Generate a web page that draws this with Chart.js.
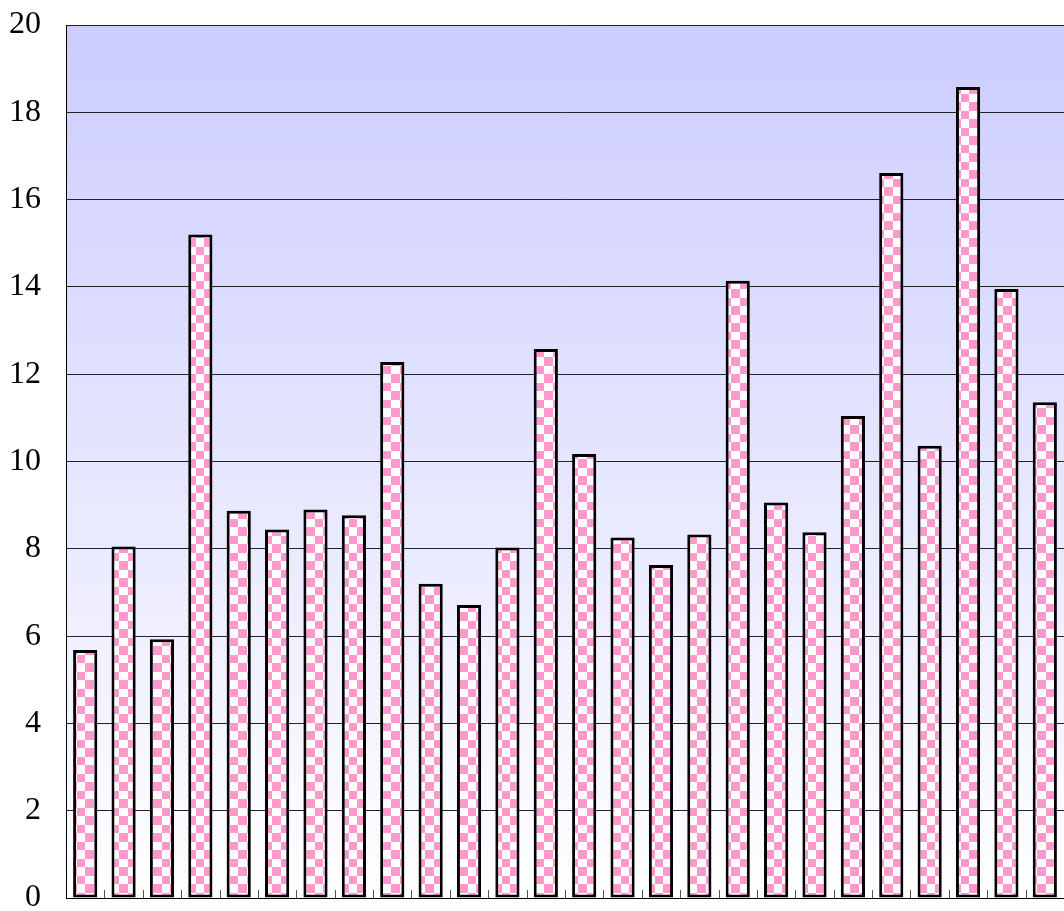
<!DOCTYPE html>
<html>
<head>
<meta charset="utf-8">
<script src="https://cdn.jsdelivr.net/npm/chart.js@4/dist/chart.umd.min.js"></script>
<style>
  html, body { margin: 0; padding: 0; background: #ffffff; }
  #wrap { width: 1064px; height: 911px; }
</style>
</head>
<body>
<div id="wrap"><canvas id="barChart"></canvas></div>
<script>
// valores
const categories = ['1', '2', '3', '4', '5', '6', '7', '8', '9', '10', '11', '12', '13',
  '14', '15', '16', '17', '18', '19', '20', '21', '22', '23', '24', '25', '26'];
const values = [5.68, 8.05, 5.93, 15.2, 8.87, 8.44, 8.9, 8.77, 12.28, 7.2, 6.71, 8.03, 12.58,
  10.17, 8.26, 7.63, 8.33, 14.14, 9.06, 8.38, 11.04, 16.61, 10.36, 18.58, 13.95, 11.36];
const yTicks = [0, 2, 4, 6, 8, 10, 12, 14, 16, 18, 20];

// padrão xadrez rosa/branco
function makeChecker() {
  const c = document.createElement('canvas');
  c.width = 17;
  c.height = 17;
  const g = c.getContext('2d');
  g.fillStyle = '#ffffff';
  g.fillRect(0, 0, 17, 17);
  g.fillStyle = '#ff99cc';
  g.fillRect(0, 0, 9, 9);
  g.fillRect(9, 9, 8, 8);
  const ctx = document.createElement('canvas').getContext('2d');
  return ctx.createPattern(c, 'repeat');
}

// fundo em degradê na área do gráfico
const plotBackground = {
  id: 'plotBackground',
  beforeDraw(chart) {
    const { ctx, chartArea: a } = chart;
    const grad = ctx.createLinearGradient(0, a.top, 0, a.bottom);
    grad.addColorStop(0, '#ccccff');
    grad.addColorStop(1, '#ffffff');
    ctx.save();
    ctx.fillStyle = grad;
    ctx.fillRect(a.left, a.top, a.right - a.left, a.bottom - a.top);
    ctx.restore();
  }
};

// marcas do eixo x voltadas para dentro
const innerTicks = {
  id: 'innerTicks',
  afterDatasetsDraw(chart) {
    const { ctx, chartArea: a } = chart;
    const x = chart.scales.x;
    ctx.save();
    ctx.strokeStyle = '#555555';
    ctx.lineWidth = 1;
    ctx.beginPath();
    for (let i = 1; i < categories.length; i++) {
      const px = Math.round((x.getPixelForValue(i - 1) + x.getPixelForValue(i)) / 2) + 0.5;
      ctx.moveTo(px, a.bottom);
      ctx.lineTo(px, a.bottom - 8);
    }
    ctx.stroke();
    ctx.restore();
  }
};

const ctx = document.getElementById('barChart').getContext('2d');
new Chart(ctx, {
  type: 'bar',
  data: {
    labels: categories,
    datasets: [{
      data: values,
      backgroundColor: makeChecker(),
      borderColor: '#000000',
      borderWidth: 3,
      borderSkipped: false,
      barPercentage: 0.63,
      categoryPercentage: 1.0
    }]
  },
  options: {
    responsive: true,
    maintainAspectRatio: false,
    animation: false,
    layout: { padding: { top: 25, bottom: 13, left: 0, right: 0 } },
    plugins: {
      legend: { display: false },
      tooltip: { enabled: false }
    },
    scales: {
      x: {
        afterFit(scale) { scale.height = 0; },
        grid: { display: false },
        border: { display: true, color: '#000000', width: 1 },
        ticks: { display: false }
      },
      y: {
        min: 0,
        max: 20,
        afterFit(scale) { scale.width = 66; },
        afterBuildTicks(scale) { scale.ticks = yTicks.map(v => ({ value: v })); },
        ticks: {
          color: '#000000',
          padding: 0,
          font: { family: '"Liberation Serif", serif', size: 32, lineHeight: 0.8 }
        },
        grid: {
          color: '#222222',
          lineWidth: 1,
          drawTicks: true,
          tickLength: 25,
          tickColor: 'rgba(0,0,0,0)'
        },
        border: { display: true, color: '#000000', width: 1 }
      }
    }
  },
  plugins: [plotBackground, innerTicks]
});
</script>
</body>
</html>
